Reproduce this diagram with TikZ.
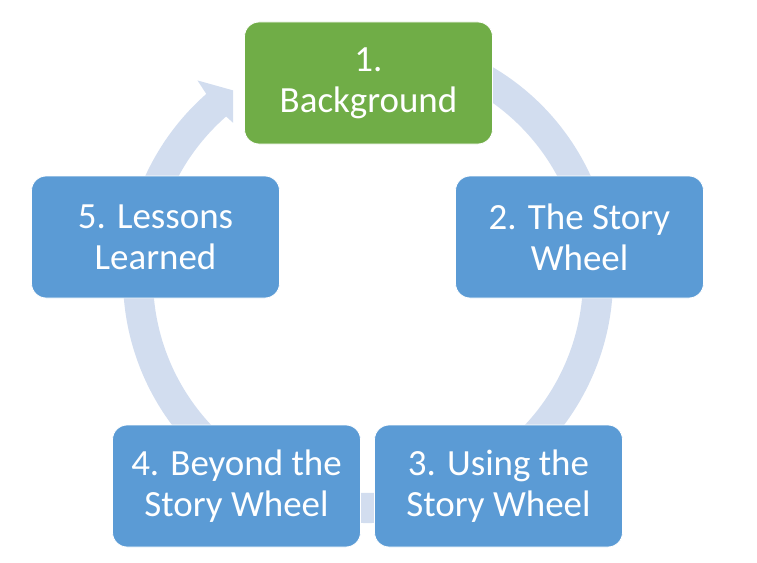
\documentclass[tikz,border=0pt]{standalone}
\usepackage{fontspec}
\setmainfont{Carlito}
\definecolor{ringc}{HTML}{D2DDEF}
\definecolor{boxblue}{HTML}{5B9BD5}
\definecolor{boxgreen}{HTML}{70AD47}
\tikzset{
  stagebox/.style={draw=white, line width=0.6pt, rounded corners=11pt,
    minimum width=186pt, minimum height=91.5pt, inner sep=0pt,
    align=center, text=white, font=\fontsize{27.7}{31}\selectfont},
  bluebox/.style={stagebox, fill=boxblue},
  greenbox/.style={stagebox, fill=boxgreen}
}
\begin{document}
\begin{tikzpicture}[x=0.75pt, y=0.75pt]
\useasboundingbox (0,0) rectangle (757,562);
% ring with arrowhead
\begin{scope}
  \clip (0,0) -- (757,0) -- (757,562) -- (493,562) -- (493,402) -- (233,402) -- (233,562) -- (0,562) -- cycle;
  \begin{scope}[shift={(368,284)}]
    \fill[ringc] (62:245) arc[start angle=62, end angle=-228.7, radius=245]
      -- (-229.2:261) -- (-234.5:230) -- (-229.2:200) -- (-228.7:215)
      arc[start angle=-228.7, end angle=62, radius=215] -- cycle;
  \end{scope}
\end{scope}
% boxes
\node[greenbox] (b1) at (368.5,479) {1.\\Background};
\node[bluebox]  (b2) at (579.5,325) {2. The Story\\Wheel};
\node[bluebox]  (b3) at (498.5,76)  {3. Using the\\Story Wheel};
\node[bluebox]  (b4) at (236.5,76)  {4. Beyond the\\Story Wheel};
\node[bluebox]  (b5) at (155.5,325) {5. Lessons\\Learned};
\end{tikzpicture}
\end{document}
